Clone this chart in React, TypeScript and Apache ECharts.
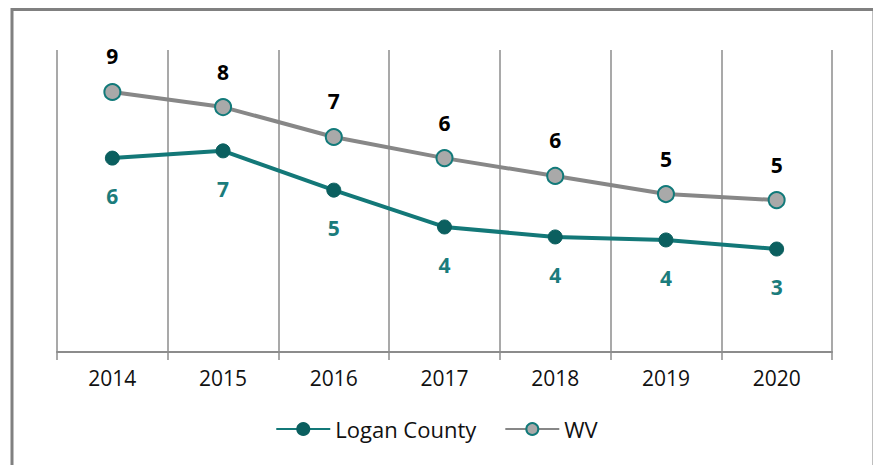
import React, { useEffect, useRef } from "react";
import * as echarts from "echarts";

const years = ["2014", "2015", "2016", "2017", "2018", "2019", "2020"];
const loganCounty = [6.42, 6.66, 5.36, 4.14, 3.81, 3.71, 3.41];
const wv = [8.61, 8.11, 7.12, 6.42, 5.83, 5.23, 5.03];

const FONT = "'Open Sans', 'Liberation Sans', sans-serif";
const TEAL_LINE = "#137878";
const TEAL_DARK = "#0b5f5f";
const GRAY_LINE = "#878787";

export default function App() {
  const ref = useRef<HTMLDivElement>(null);
  useEffect(() => {
    if (!ref.current) return;
    const chart = echarts.init(ref.current, undefined, { renderer: "svg" });
    chart.setOption({
      animation: false,
      backgroundColor: "#ffffff",
      graphic: [
        {
          type: "rect",
          shape: { x: 12, y: 9.5, width: 862, height: 480 },
          style: { fill: "none", stroke: "#808080", lineWidth: 3 },
          silent: true,
        },
      ],
      grid: { left: 57, right: 41, top: 50, bottom: 113 },
      xAxis: {
        type: "category",
        data: years,
        boundaryGap: true,
        axisLine: { show: true, lineStyle: { color: "#8c8c8c", width: 2 } },
        axisTick: { show: true, length: 8, interval: 0, lineStyle: { color: "#8c8c8c", width: 1.5 } },
        splitLine: { show: true, interval: 0, lineStyle: { color: "#8c8c8c", width: 1.5 } },
        axisLabel: { color: "#111", fontFamily: FONT, fontSize: 21, margin: 15 },
      },
      yAxis: {
        type: "value",
        min: 0,
        max: 10,
        show: false,
        splitLine: { show: false },
      },
      legend: {
        bottom: 20,
        left: "center",
        itemWidth: 54,
        itemHeight: 15,
        itemGap: 28,
        textStyle: { fontFamily: FONT, fontSize: 22, color: "#111" },
        data: ["Logan County", "WV"],
      },
      series: [
        {
          name: "Logan County",
          type: "line",
          data: loganCounty,
          symbol: "circle",
          symbolSize: 14,
          lineStyle: { color: TEAL_LINE, width: 4 },
          itemStyle: { color: TEAL_DARK, borderColor: TEAL_DARK, borderWidth: 1 },
          label: {
            show: true,
            position: "bottom",
            distance: 20,
            formatter: (p: any) => String(Math.round(p.value)),
            color: "#1b7c7c",
            fontFamily: FONT,
            fontWeight: "bold",
            fontSize: 21,
          },
        },
        {
          name: "WV",
          type: "line",
          data: wv,
          symbol: "circle",
          symbolSize: 16,
          lineStyle: { color: GRAY_LINE, width: 4 },
          itemStyle: { color: "#a9a9a9", borderColor: "#127a7a", borderWidth: 2 },
          label: {
            show: true,
            position: "top",
            distance: 16,
            formatter: (p: any) => String(Math.round(p.value)),
            color: "#000",
            fontFamily: FONT,
            fontWeight: "bold",
            fontSize: 21,
          },
        },
      ],
    });
    return () => chart.dispose();
  }, []);
  return (
    <div
      ref={ref}
      style={{ position: "fixed", left: 0, top: 0, width: 873, height: 465 }}
    />
  );
}
